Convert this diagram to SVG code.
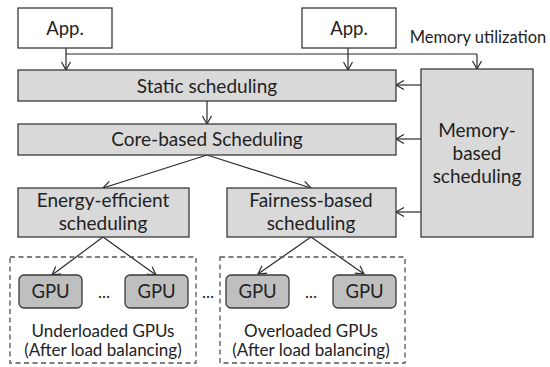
<svg xmlns="http://www.w3.org/2000/svg" width="550" height="367" viewBox="0 0 550 367">
<defs>
<style>
.box{fill:#d9d9d9;stroke:#3a3a3a;stroke-width:1.3}
.app{fill:#ffffff;stroke:#3a3a3a;stroke-width:1.3}
.gpu{fill:#bfbfbf;stroke:#3a3a3a;stroke-width:1.3}
.dash{fill:none;stroke:#555;stroke-width:1.3;stroke-dasharray:5,3.5}
.ln{fill:none;stroke:#2a2a2a;stroke-width:1.2}
text{font-family:Lato,"Liberation Sans",sans-serif;fill:#222;text-anchor:middle}
.t18{font-size:18.5px}
.t19{font-size:19px}
.t16{font-size:17px}
.t15{font-size:16.5px}
</style>
<marker id="ah" markerWidth="12" markerHeight="12" refX="9" refY="5" orient="auto" markerUnits="userSpaceOnUse" viewBox="0 0 12 10">
<path d="M1,0.5 L9,5 L1,9.5" fill="none" stroke="#2a2a2a" stroke-width="1.2"/>
</marker>
</defs>
<rect width="550" height="367" fill="#ffffff"/>

<g id="connectors">
<path class="ln" d="M66,48 V54 H477"/>
<path class="ln" d="M66,54 V70" marker-end="url(#ah)"/>
<path class="ln" d="M348,48 V70" marker-end="url(#ah)"/>
<path class="ln" d="M477,54 V69" marker-end="url(#ah)"/>
<path class="ln" d="M207,101 V124" marker-end="url(#ah)"/>
<path class="ln" d="M421,85 H396" marker-end="url(#ah)"/>
<path class="ln" d="M421,139 H396" marker-end="url(#ah)"/>
<path class="ln" d="M421,212 H396" marker-end="url(#ah)"/>
<path class="ln" d="M207,155 L103,188" marker-end="url(#ah)"/>
<path class="ln" d="M207,155 L311,188" marker-end="url(#ah)"/>
<path class="ln" d="M103,237 L52,275" marker-end="url(#ah)"/>
<path class="ln" d="M103,237 L156,275" marker-end="url(#ah)"/>
<path class="ln" d="M311,237 L258,274" marker-end="url(#ah)"/>
<path class="ln" d="M311,237 L364,274" marker-end="url(#ah)"/>
</g>

<g id="app1"><rect class="app" x="18" y="8" width="94" height="40"/><text class="t18" x="65" y="35">App.</text></g>
<g id="app2"><rect class="app" x="302" y="8" width="94" height="40"/><text class="t18" x="349" y="35">App.</text></g>
<g id="memlabel"><text class="t15" x="478" y="43">Memory utilization</text></g>

<g id="static"><rect class="box" x="18" y="70" width="378" height="31"/><text class="t19" x="207" y="93">Static scheduling</text></g>
<g id="core"><rect class="box" x="18" y="124" width="378" height="31"/><text class="t19" x="207" y="146">Core-based Scheduling</text></g>
<g id="memory"><rect class="box" x="421" y="69" width="112" height="168"/>
<text class="t19" x="477" y="137">Memory-</text><text class="t19" x="477" y="160">based</text><text class="t19" x="477" y="183">scheduling</text></g>

<g id="energy"><rect class="box" x="18" y="188" width="171" height="49"/>
<text class="t19" x="103" y="207">Energy-efficient</text><text class="t19" x="103" y="230">scheduling</text></g>
<g id="fairness"><rect class="box" x="227" y="188" width="169" height="49"/>
<text class="t19" x="311" y="207">Fairness-based</text><text class="t19" x="311" y="230">scheduling</text></g>

<g id="under">
<rect class="dash" x="10" y="257" width="186" height="106"/>
<text class="t16" x="103" y="337">Underloaded GPUs</text>
<text class="t16" x="103" y="356">(After load balancing)</text>
</g>
<g id="over">
<rect class="dash" x="220" y="257" width="185" height="106"/>
<text class="t16" x="311" y="337">Overloaded GPUs</text>
<text class="t16" x="311" y="356">(After load balancing)</text>
</g>
<g id="gpu1"><rect class="gpu" x="19" y="275" width="63" height="33" rx="5"/><text class="t18" x="50.5" y="298">GPU</text></g>
<g id="gpu2"><rect class="gpu" x="125" y="275" width="63" height="33" rx="5"/><text class="t18" x="156.5" y="298">GPU</text></g>
<g id="gpu3"><rect class="gpu" x="226" y="275" width="63" height="33" rx="5"/><text class="t18" x="257.5" y="298">GPU</text></g>
<g id="gpu4"><rect class="gpu" x="333" y="275" width="63" height="33" rx="5"/><text class="t18" x="364.5" y="298">GPU</text></g>
<g id="dots">
<text class="t16" x="104" y="298">...</text>
<text class="t16" x="208" y="298">...</text>
<text class="t16" x="311" y="298">...</text>
</g>
</svg>
